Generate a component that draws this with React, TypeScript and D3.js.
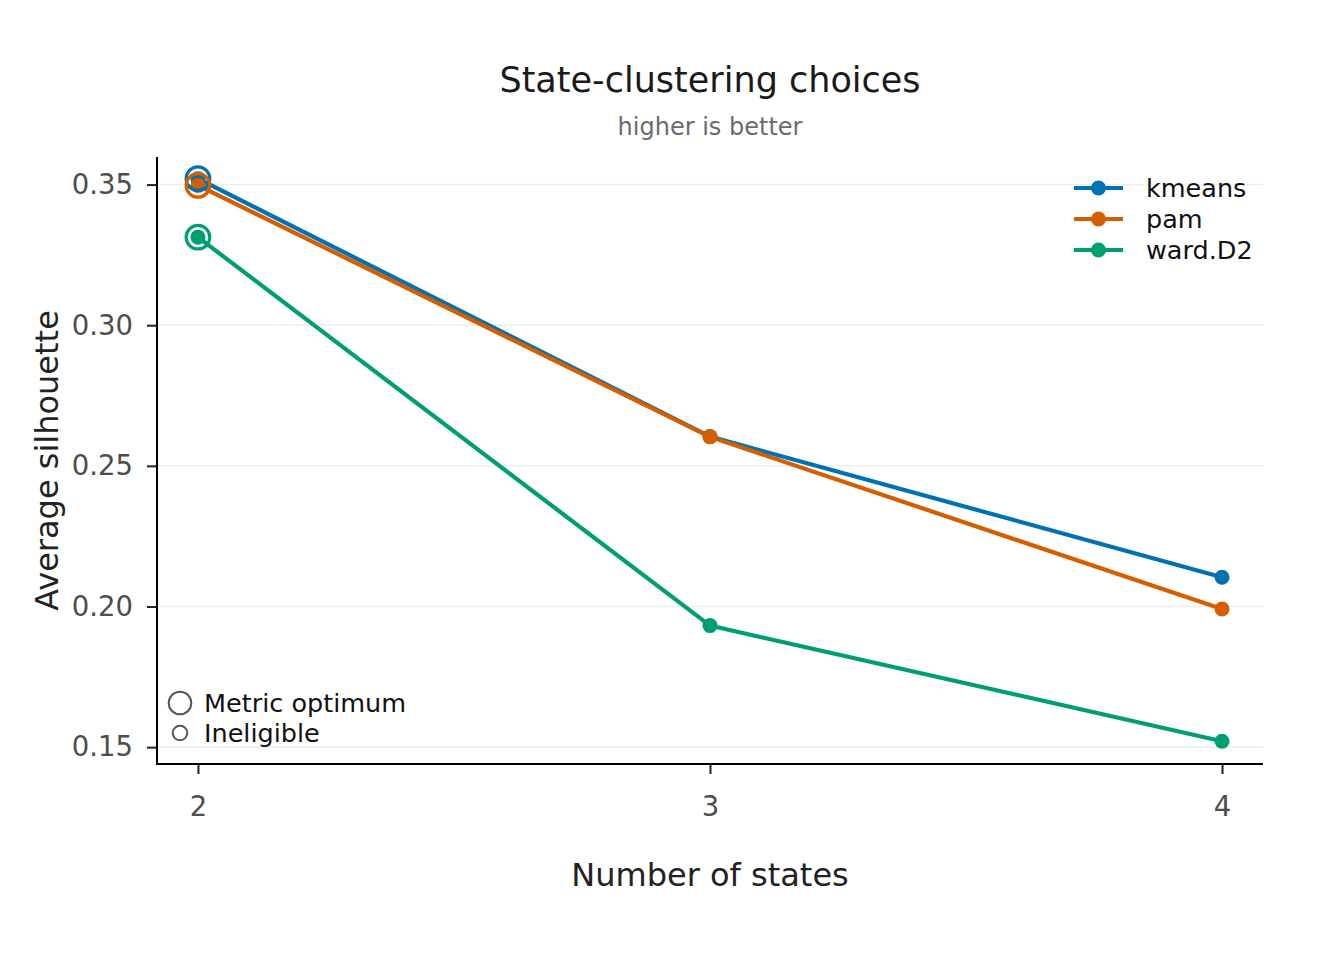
import { useEffect, useRef } from "react";
import * as d3 from "d3";

const states = [2, 3, 4];
const methods = ["kmeans", "pam", "ward.D2"];
const kmeansValues = [0.3521, 0.2604, 0.2104];
const pamValues = [0.3497, 0.2603, 0.1991];
const wardValues = [0.3313, 0.1932, 0.1521];
const yTicks = [0.15, 0.2, 0.25, 0.3, 0.35];
const colors = ["#0072B2", "#D55E00", "#009E73"];

const series = [kmeansValues, pamValues, wardValues].map((values, i) => ({
  name: methods[i],
  color: colors[i],
  points: states.map((s, j) => ({ k: s, v: values[j] })),
}));

const FONT = "'DejaVu Sans', sans-serif";

const App = () => {
  const ref = useRef<SVGSVGElement>(null);

  useEffect(() => {
    if (!ref.current) return;

    const width = 1344;
    const height = 960;
    const left = 157;
    const right = 1263;
    const top = 157;
    const bottom = 764;

    const svg = d3.select(ref.current);
    svg.selectAll("*").remove();

    const x = d3.scaleLinear().domain([1.92, 4.08]).range([left, right]);
    const y = d3.scaleLinear().domain([0.144, 0.3598]).range([bottom, top]);

    svg.append("rect").attr("width", width).attr("height", height).attr("fill", "white");

    // grid
    svg
      .append("g")
      .selectAll("line")
      .data(yTicks)
      .join("line")
      .attr("x1", left)
      .attr("x2", right)
      .attr("y1", (d) => y(d))
      .attr("y2", (d) => y(d))
      .attr("stroke", "#ededed")
      .attr("stroke-width", 1.5);

    // axes
    const gy = svg
      .append("g")
      .attr("transform", `translate(${left},0)`)
      .call(d3.axisLeft(y).tickValues(yTicks).tickFormat(d3.format(".2f")).tickSize(10).tickPadding(14));
    gy.select(".domain").remove();
    gy.selectAll(".tick line").attr("stroke", "#222").attr("stroke-width", 2);
    gy.selectAll(".tick text")
      .attr("font-family", FONT)
      .attr("font-size", 27.5)
      .attr("fill", "#4d4d4d");

    const gx = svg
      .append("g")
      .attr("transform", `translate(0,${bottom})`)
      .call(d3.axisBottom(x).tickValues(states).tickFormat(d3.format("d")).tickSize(10).tickPadding(22));
    gx.select(".domain").remove();
    gx.selectAll(".tick line").attr("stroke", "#222").attr("stroke-width", 2);
    gx.selectAll(".tick text")
      .attr("font-family", FONT)
      .attr("font-size", 27.5)
      .attr("fill", "#4d4d4d");

    svg
      .append("path")
      .attr("d", `M${left},${top}V${bottom}H${right}`)
      .attr("fill", "none")
      .attr("stroke", "black")
      .attr("stroke-width", 2);

    // lines
    const line = d3
      .line<{ k: number; v: number }>()
      .x((d) => x(d.k))
      .y((d) => y(d.v));

    series.forEach((s) => {
      svg
        .append("path")
        .datum(s.points)
        .attr("d", line)
        .attr("fill", "none")
        .attr("stroke", s.color)
        .attr("stroke-width", 4.2);
    });

    series.forEach((s) => {
      svg
        .append("g")
        .selectAll("circle")
        .data(s.points)
        .join("circle")
        .attr("cx", (d) => x(d.k))
        .attr("cy", (d) => y(d.v))
        .attr("r", 7.5)
        .attr("fill", s.color);
    });

    // metric optimum rings
    series.forEach((s) => {
      const best = s.points.reduce((a, b) => (b.v > a.v ? b : a));
      svg
        .append("circle")
        .attr("cx", x(best.k))
        .attr("cy", y(best.v))
        .attr("r", 11.8)
        .attr("fill", "none")
        .attr("stroke", s.color)
        .attr("stroke-width", 3.2);
    });

    // color legend
    const leg = svg.append("g").attr("transform", "translate(1074,188)");
    series.forEach((s, i) => {
      const row = leg.append("g").attr("transform", `translate(0,${i * 31})`);
      row.append("line").attr("x1", 0).attr("x2", 49).attr("stroke", s.color).attr("stroke-width", 4.2);
      row.append("circle").attr("cx", 24.5).attr("r", 7.5).attr("fill", s.color);
      row
        .append("text")
        .attr("x", 72)
        .attr("dy", "0.36em")
        .attr("font-family", FONT)
        .attr("font-size", 25.5)
        .attr("fill", "#111")
        .text(s.name);
    });

    // shape legend
    const shapes = [
      { label: "Metric optimum", r: 11.3 },
      { label: "Ineligible", r: 7.3 },
    ];
    shapes.forEach((d, i) => {
      const cy = 703 + i * 30;
      svg
        .append("circle")
        .attr("cx", 180)
        .attr("cy", cy)
        .attr("r", d.r)
        .attr("fill", "none")
        .attr("stroke", "#555")
        .attr("stroke-width", 2);
      svg
        .append("text")
        .attr("x", 204)
        .attr("y", cy)
        .attr("dy", "0.36em")
        .attr("font-family", FONT)
        .attr("font-size", 25.5)
        .attr("fill", "#111")
        .text(d.label);
    });

    // titles
    svg
      .append("text")
      .attr("x", 710)
      .attr("y", 92)
      .attr("text-anchor", "middle")
      .attr("font-family", FONT)
      .attr("font-size", 35)
      .attr("fill", "#1a1a1a")
      .text("State-clustering choices");
    svg
      .append("text")
      .attr("x", 710)
      .attr("y", 135)
      .attr("text-anchor", "middle")
      .attr("font-family", FONT)
      .attr("font-size", 24)
      .attr("fill", "#6b6b6b")
      .text("higher is better");
    svg
      .append("text")
      .attr("x", 710)
      .attr("y", 886)
      .attr("text-anchor", "middle")
      .attr("font-family", FONT)
      .attr("font-size", 32)
      .attr("fill", "#222")
      .text("Number of states");
    svg
      .append("text")
      .attr("transform", `translate(58,${(top + bottom) / 2}) rotate(-90)`)
      .attr("text-anchor", "middle")
      .attr("font-family", FONT)
      .attr("font-size", 32)
      .attr("fill", "#222")
      .text("Average silhouette");
  }, []);

  return (
    <svg
      ref={ref}
      width={1344}
      height={960}
      style={{ position: "absolute", left: 0, top: 0 }}
    />
  );
};

export default App;
